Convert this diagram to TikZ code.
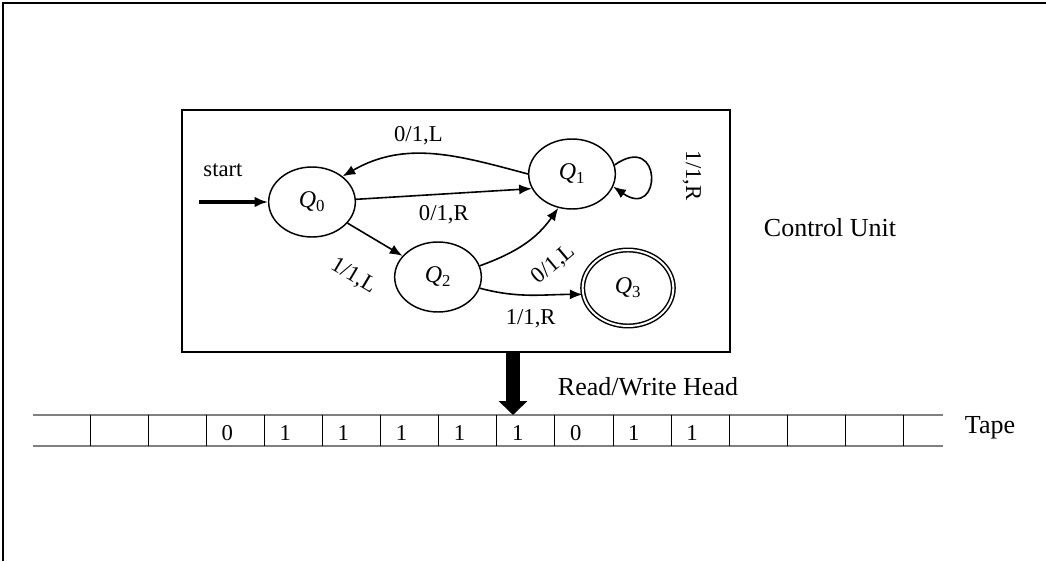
\documentclass[tikz,border=0pt]{standalone}
\usepackage{fontspec}
\setmainfont{Liberation Serif}
\usetikzlibrary{arrows.meta,shapes.geometric}
\newcommand{\qst}[1]{\textit{Q}\textsubscript{#1}}

\begin{document}
\begin{tikzpicture}[x=0.75pt, y=0.75pt, >={Latex[length=9.5pt,width=7.5pt]},
    state/.style={draw, ellipse, line width=1.1pt, minimum width=65pt, minimum height=52.5pt,
                  inner sep=0pt, font=\fontsize{18}{20}\selectfont},
    accept/.style={state, double, double distance=1.5pt, minimum width=68pt, minimum height=57pt},
    edge/.style={->, line width=1.2pt},
    lbl/.style={font=\fontsize{17}{20}\selectfont},
    big/.style={font=\fontsize{19.5}{23}\selectfont},
    cell/.style={font=\fontsize{17}{20}\selectfont}]
    \useasboundingbox (0,0) rectangle (1046,561);
    \draw[line width=1.6pt] (3,0) -- (3,558) -- (1046,558);

    % control unit
    \node[draw, line width=1.5pt, minimum width=411pt, minimum height=181.5pt] (unit) at (456,330) {};
    \node[big] (cu) at (830,333) {Control Unit};

    \node[state] (Q0) at (312,359) {\qst{0}};
    \node[state] (Q1) at (572,387) {\qst{1}};
    \node[state] (Q2) at (438,284) {\qst{2}};
    \node[accept] (Q3) at (628,273) {\qst{3}};
    \node[lbl] (start) at (223,391) {start};
    \coordinate (in) at (199,359);

    \draw[->, line width=2.4pt, >={Latex[length=10pt,width=8pt]}] (in) -- (Q0.west);
    \draw[edge] (Q1.west) to[out=165, in=30] node[lbl, pos=0.58, above=3pt] {0/1,L} (Q0.40);
    \draw[edge] (Q0) -- (Q1.200) node[lbl, midway, below=5pt] {0/1,R};
    \draw[edge] (Q0) -- (Q2) node[lbl, midway, sloped, below=21pt] {1/1,L};
    \draw[edge] (Q2.15) to[out=20, in=235] node[lbl, pos=0.6, sloped, below=15pt] {0/1,L} (Q1.248);
    \draw[edge] (Q2.-15) to[out=-15, in=180] node[lbl, midway, below=7pt] {1/1,R} (Q3.188);
    \draw[edge] (Q1.12) to[out=35, in=-35, looseness=7] node[lbl, midway, xshift=31pt, rotate=-90] {1/1,R} (Q1.-17);

    % tape
    \draw[gray, line width=1.4pt] (33,146) -- (943,146) (33,115) -- (943,115);
    \foreach \i in {0,...,14}
        \draw[line width=0.5pt] ({90+58.1*\i},115) -- ({90+58.1*\i},146);
    \foreach \s [count=\k from 3] in {0,1,1,1,1,1,0,1,1}
        \node[cell] (c\k) at ({90+58.1*(\k-1)+21},128) {\s};
    \coordinate (head) at (513,146);
    \draw[line width=10.5pt, -{Triangle[length=10.5pt,width=21pt]}] (unit.south -| head) -- (head);
    \node[big] (rw) at (648,174) {Read/Write Head};
    \node[big] (tape) at (990,133) {Tape};
\end{tikzpicture}
\end{document}
